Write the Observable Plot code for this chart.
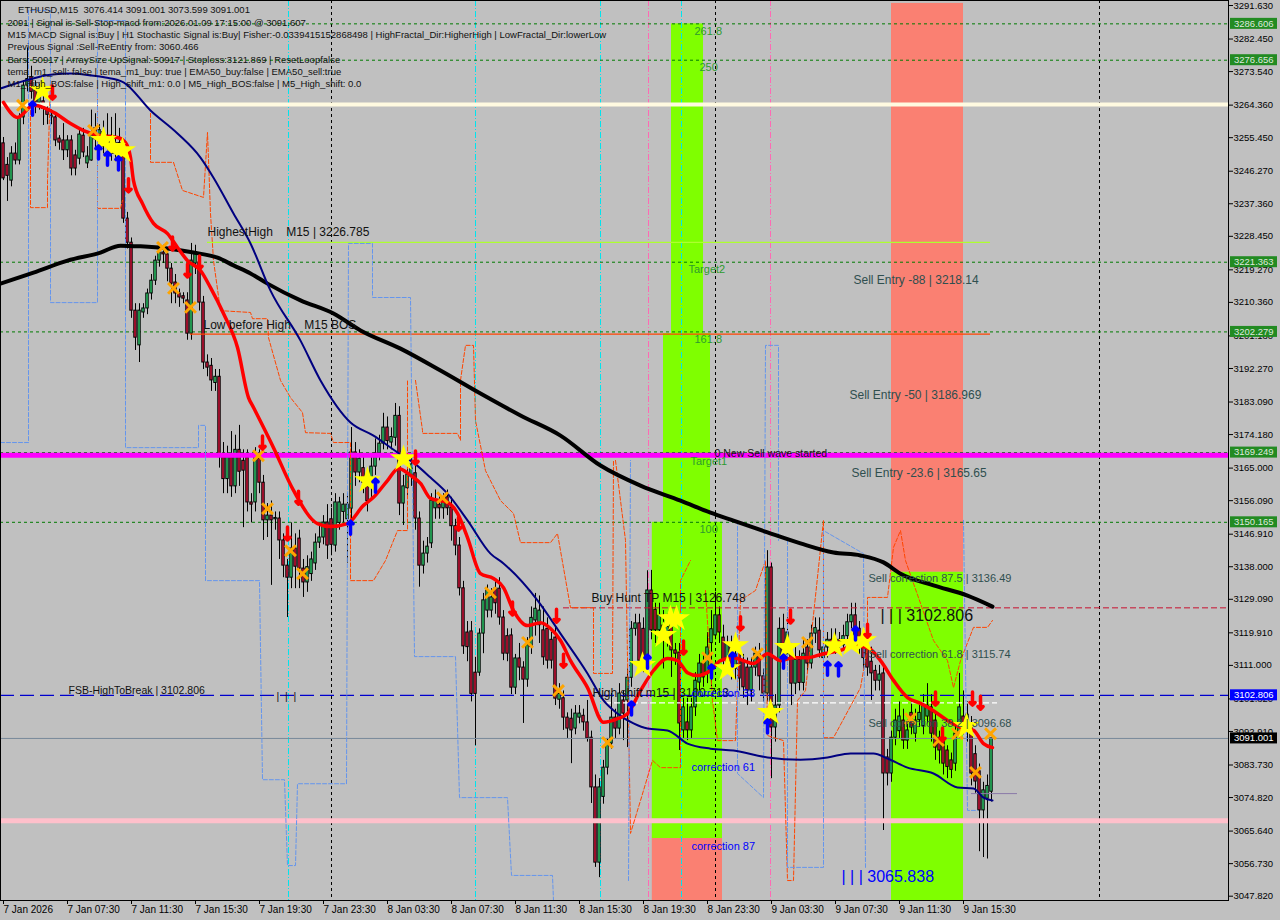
<!DOCTYPE html>
<html><head><meta charset="utf-8">
<script src="https://cdn.jsdelivr.net/npm/d3@7"></script>
<script src="https://cdn.jsdelivr.net/npm/@observablehq/plot@0.6"></script>
<style>
html,body{margin:0;padding:0;background:#c0c0c0;}
#chart{width:1280px;height:920px;}
svg text{white-space:pre;}
</style></head><body><div id="chart"></div>
<script>
// ---------- candles (bar index 0 = 7 Jan 03:30, M15) ----------
const open = [
3253.9,3248,3243.7,3251.1,3249.2,3261,3269.7,3272,3268.4,3265,
3265.4,3263.3,3261.5,3261,3255.2,3254.7,3252,3254.7,3250.6,3249.7,
3256,3248.4,3249.2,3258,3255,3257,3253,3256,3251,3254,
3251.4,3233.3,3226.7,3208.1,3198.6,3207.6,3208.7,3212.8,3216.3,3221.8,
3224,3223.5,3219.6,3215.8,3212.8,3211.7,3210.9,3201.8,3221,3221.3,
3210.3,3193.9,3193,3188.3,3190,3168,3162,3168,3160,3170,
3167,3167.9,3155.6,3155.6,3167.6,3161,3150.7,3152,3151,3151.2,
3145.2,3138.3,3135,3143,3145.7,3137.5,3133.7,3136,3138.9,3144.6,
3146,3150.1,3151,3143.8,3150,3153,3151,3153.9,3169.3,3163.8,
3165,3160,3160.2,3165.4,3169,3171.7,3176.1,3172,3173.3,3179.3,
3155.3,3159.5,3163,3163.6,3151.2,3138.3,3141.6,3144.4,3154,3155,
3154,3157,3154.2,3149.1,3143.8,3132.1,3120,3120.3,3109,3109,
3119.7,3126,3126,3132,3132,3124.1,3119,3119.2,3104.9,3112.9,
3110.4,3107.1,3116,3123.3,3122,3120.6,3121,3118,3118.6,3101.6,
3102,3096.7,3096.4,3093.7,3096.7,3097.2,3095.4,3091.2,3077.6,3057,
3075,3083,3089.6,3096.7,3093.7,3101.4,3101.4,3107.6,3121,3122.5,
3121,3112.3,3131.5,3126.2,3120.6,3121.9,3118.6,3122.7,3115.1,3114.5,
3093.2,3095.4,3093.2,3099.5,3106.3,3111.5,3108.7,3117.1,3119.2,3124.7,
3118.6,3111.8,3116,3110,3114.2,3112,3110.4,3104.1,3110.4,3114,
3108,3103.3,3137.8,3094,3100,3121,3114,3114,3106,3112.5,
3106.2,3115.9,3111.5,3119.7,3120.5,3113,3115.9,3118,3116,3118,
3116.5,3119,3122.8,3124.7,3121,3118,3115.9,3112,3109.5,3106.8,
3108.8,3085.8,3081.4,3091.2,3093,3095.9,3090.4,3098,3092.3,3096,
3094.4,3097,3099.5,3095.9,3091.2,3090.4,3087.7,3085,3084.1,3092.3,
3097,3094,3094,3086.7,3082,3071.3,3074.5,3076.414];
const high = [
3255.5,3250,3253,3254,3262,3271,3280,3275,3271,3270,
3268,3264,3263,3262,3256,3259.3,3256,3256,3252,3258,
3258,3253,3263,3262,3259,3260,3262,3261,3262,3258,
3253,3235,3228,3210,3210,3210,3214,3218,3223,3226,
3226,3225,3221,3218,3214,3213,3213,3226.5,3226,3224,
3212,3196,3195,3192,3192,3172,3171,3175,3174,3176.7,
3170,3170,3158,3170.6,3170,3163,3155.3,3156,3153,3153,
3147,3140,3150,3147,3148,3140,3141,3142,3147,3149,
3152,3155,3154,3158,3157,3158,3158,3176.1,3172,3170,
3168,3163,3168,3173,3174,3180,3179,3176,3182.7,3181.8,
3163,3166,3169,3168,3153,3145,3146,3158,3159,3158,
3158,3159,3157,3151,3146,3134,3123,3123,3113.2,3121,
3130.7,3133,3132,3134.2,3135,3126,3121,3121,3114,3117,
3112,3118.6,3127,3130.7,3130,3127,3124,3120,3121.4,3106,
3104,3098,3099,3100,3100,3099,3101.4,3093,3081,3080,
3085,3091,3103.3,3099,3106,3104,3110,3123,3125,3125,
3124,3136.9,3137,3128,3128,3126,3125,3126,3117,3117,
3102,3102,3102,3109,3114,3114,3120,3126,3131,3127,
3122,3119,3119,3118,3117,3114,3113,3113,3116,3117,
3110,3142.4,3139,3103,3124,3125,3124,3117,3116,3115,
3118,3118,3122,3124,3124,3118,3120,3121,3121,3120,
3122,3125,3128,3128,3123,3120,3118,3116,3111,3111,
3111,3088,3093,3099,3101,3099,3096,3101,3099,3100,
3103,3106,3103,3098,3093,3092,3089,3087,3094,3108.8,
3104,3101,3097,3089,3084,3079,3081,3091.001];
const low = [
3243.7,3238,3242,3248,3248,3259,3268,3266,3262,3263,
3258.8,3259,3259,3253,3252,3249.2,3250,3245,3245,3248,
3250,3247,3249,3252,3253,3251,3250,3249,3249,3249,
3232,3225,3206,3197.2,3193.9,3206,3207,3211,3215,3220,
3221,3216,3210,3210,3209,3210,3200,3200,3218,3208,
3192,3190,3186,3186,3165,3158,3158,3157,3158,3160,
3148.7,3153,3150,3153,3158,3145.2,3146,3132.9,3148,3140,
3135,3124.1,3132,3132,3132,3129.6,3131,3134,3137,3143,
3144,3140,3141,3142,3148,3150,3139,3151,3160,3161,
3158,3153,3157,3163,3167,3170,3170,3170,3171,3152,
3149.3,3157,3160,3148,3132.4,3136,3139,3143,3151,3151,
3151,3152,3145,3141,3130,3114,3112,3101,3089,3108,
3114.2,3124,3124,3125,3122,3112.3,3112,3103,3103,3106.8,
3095.1,3105,3114,3119,3117,3111,3110,3110,3100,3099,
3093.2,3091,3084.1,3092,3095,3093,3090,3073.2,3055.7,3052.9,
3073,3081,3088,3091,3092,3090.4,3088.5,3105,3119,3110,
3109,3110,3118,3117,3118,3110,3116,3107.7,3111,3087.7,
3091,3090.4,3091,3097,3104,3105,3106,3105,3118,3117,
3110,3109,3107,3107,3104,3102,3100,3101,3108,3104,
3101,3101,3080,3090,3098,3110,3111,3100,3103,3104,
3104,3109,3110,3117,3113,3111,3113,3114,3114,3114,
3115,3118,3121,3117,3114,3110,3108,3101.4,3104,3104,
3065.8,3078,3079,3089,3091,3088,3088,3092,3090,3094,
3092,3095,3090,3085,3084,3081,3080,3080,3082,3091,
3092,3090,3078,3076,3060,3058.4,3058,3073.599];
const close = [
3244.3,3245,3251.1,3249.2,3261,3269.7,3271.5,3268,3265,3268,
3263.3,3261.7,3261,3254.7,3254.1,3252,3254.7,3247,3247,3256.3,
3251.4,3250.3,3256.6,3255,3257.5,3253,3256,3251,3254,3251.4,
3233.3,3226.7,3208.1,3200.7,3208.1,3208.7,3212.8,3216.3,3221.8,3224,
3223.5,3219.6,3215.5,3212.8,3211.7,3211.4,3201.8,3221.8,3224,3210.3,
3193.9,3192.5,3189,3190,3168,3162,3168,3160,3170,3164,
3164.3,3155.6,3155,3167.9,3161,3150.7,3152,3150.7,3151,3145.2,
3138.3,3135,3143,3138,3137.5,3133.7,3137.9,3140,3144.6,3146,
3150.1,3143.8,3144,3155.6,3155.6,3155,3155,3169.3,3163.8,3167.6,
3161,3156,3165.4,3169,3171.7,3176.1,3172.4,3173.5,3179.3,3155.3,
3160,3163.2,3166,3151.2,3138.3,3141.6,3143.5,3156.1,3156,3154,
3156,3154,3149.1,3143.8,3132.1,3116.2,3116,3103.2,3103.2,3119.7,
3128.8,3131.5,3129.6,3128,3124.1,3114.2,3114.2,3104.9,3112.9,3110.4,
3107.1,3116.5,3124,3126.5,3126,3113.2,3112.3,3112.3,3101.9,3103.2,
3096.7,3093.7,3093.2,3097.8,3097.8,3095.4,3091,3077.6,3057,3077.6,
3083,3089.6,3096.7,3093.7,3103.3,3097.8,3107.6,3121,3122.5,3112.3,
3112.3,3131.5,3120.6,3120.6,3124.7,3118.6,3121.5,3115.1,3114.2,3095.1,
3099.5,3093.2,3099.5,3106.8,3111.5,3107.7,3115.9,3120.9,3124.7,3120,
3112.3,3116.9,3110,3114,3107.4,3105,3104.1,3110.4,3114.2,3108,
3103.3,3137.8,3094,3100,3121,3114,3120,3106,3112.5,3106.2,
3114.2,3111.5,3119.7,3121.2,3115.1,3115.9,3118,3116,3118,3116.5,
3119,3122.8,3124.7,3119.2,3116.4,3113,3110.4,3108.8,3106.8,3108.5,
3081.4,3081.4,3091.2,3095.9,3097,3090.4,3093.2,3094,3095.9,3098,
3100,3100,3092.3,3088.5,3087.7,3084.1,3083.2,3082.4,3092.3,3099.5,
3094,3097.5,3081.4,3079.2,3071.3,3076.8,3078,3091.001];

// ---------- indicator lines (bar index, price) ----------
const redI = [0,3.5,7.5,10,13,16.75,20,24.25,28.5,30.5,31.75,32.5,34.75,37.5,41,43.5,46,49.25,51.75,55,58.5,61.25,62.5,67.5,72.5,78.5,81.75,86,90,92.5,96,98.75,101.75,104.25,106.75,111,113.5,116,119.25,122.5,125,127.5,131,134.25,136.75,139.25,141.75,146,150,153.5,156,159.25,162.5,166,168.5,171,173.5,176.75,179.25,182.5,185,187.5,191,194.25,197.5,201,205,209.25,212.5,216,219.25,222.5,226,229.25,232.5,236,239.25,242.5,245,247.25];
const redP = [3265.1,3261.0,3264.3,3263.7,3262.1,3259.3,3257.4,3256.0,3255.5,3254.1,3250.0,3243.7,3237.4,3232.0,3229.2,3225.4,3221.8,3219.1,3214.4,3207.3,3198.0,3184.3,3181.6,3170.6,3158.9,3149.8,3149.0,3149.8,3154.8,3157.0,3161.6,3164.9,3163.0,3160.8,3156.7,3155.6,3152.6,3146.0,3136.1,3134.8,3132.3,3126.0,3121.9,3122.7,3121.1,3117.8,3112.3,3104.9,3095.4,3096.4,3097.8,3104.1,3109.6,3112.9,3112.3,3109.0,3108.2,3109.6,3112.3,3113.1,3112.3,3111.5,3114.2,3112.3,3113.1,3113.1,3114.2,3115.1,3116.4,3115.9,3112.3,3106.9,3102.2,3100.6,3098.6,3095.9,3094.0,3093.2,3089.6,3088.5];
const navyI = [-0.75,5.5,11.75,16.75,21.75,25.5,30,36.75,43.5,49.25,52.5,57.5,61.75,66.75,74.25,79.25,86.75,92.5,98.5,102.5,106.75,111,116,121.75,125,133.5,139.25,146,150,153.5,157.5,161,166,171,176.75,182.5,191,199.25,206,211.75,217.5,221,226,232.5,238.5,242.5,245,247.25];
const navyP = [3268.9,3271.1,3272.7,3273.0,3272.5,3271.9,3270.6,3262.9,3256.6,3250.0,3244.5,3234.7,3226.5,3213.6,3199.9,3189.0,3177.5,3173.9,3169.3,3166.5,3162.4,3158.0,3150.7,3141.6,3138.9,3128.8,3119.7,3108.8,3101.4,3097.8,3095.1,3093.7,3093.2,3089.6,3088.2,3087.7,3085.8,3085.2,3085.8,3086.9,3086.9,3085.5,3083.0,3081.4,3077.6,3077.3,3074.8,3074.0];
const blackI = [-0.75,7.5,16,24.25,29.25,34.25,41,47.5,53.5,57.5,61.75,66,74.25,82.5,89.25,99.25,109.25,119.25,129.25,139.25,149.25,159.25,169.25,176.75,182.5,191,199.25,207.5,214.25,220,224.25,232.5,241,247.25];
const blackP = [3215.5,3218.5,3221.8,3224.0,3225.9,3225.7,3225.1,3224.0,3222.6,3220.5,3218.3,3215.5,3210.9,3207.3,3202.7,3197.7,3191.7,3185.4,3179.4,3173.9,3165.7,3160.2,3156.1,3152.8,3150.6,3147.4,3144.4,3141.9,3141.1,3139.2,3136.1,3132.9,3130.1,3127.1];

// dashed step channels (segments of [bar, price])
const orangeSegs = [
 [[6.75,3262.9],[6.75,3236.3],[11,3236.3],[11,3243.7],[11.75,3271.1]],
 [[23.5,3269.2],[23.5,3236.1],[29.25,3236.1],[29.75,3238.3]],
 [[36.75,3262.1],[36.75,3248.7],[42.5,3248.7],[44.75,3241.0],[50,3239.1],[51,3256.9],[51.75,3234.7],[52.5,3221.8],[54.25,3208.1],[61.75,3207.6],[62.25,3205.9],[66,3205.9],[66.25,3200.7],[69.25,3189.0],[71.75,3184.3],[74.75,3180.2],[75.5,3174.7],[81.75,3174.5],[82.5,3172.0],[86.75,3172.0],[86.75,3134.2],[92.5,3134.2],[95.5,3139.7],[98.5,3147.9],[101,3147.9],[101,3189.0]],
 [[103,3189.0],[104.75,3175.3],[104.75,3174.5],[113.5,3174.5],[114.25,3172.6],[114.25,3189.0],[115.5,3198.6],[117.5,3198.6],[118,3178.0],[120.5,3164.3],[124.25,3156.1],[127.5,3152.6],[129.25,3144.6],[136.75,3144.6],[138.5,3147.1],[141.75,3126.8],[147.5,3126.8],[147.5,3108.8],[152.25,3108.8],[152.5,3167.1]],
 [[153,3167.1],[155.5,3145.2],[156.75,3065.0],[159.25,3074.0],[162.25,3085.0],[164.25,3083.0],[169.25,3083.0],[169.25,3134.2],[171.75,3139.7]],
 [[175.5,3131.5],[177.25,3101.4],[178.5,3090.4],[183,3090.4],[184.25,3128.8],[188,3131.5],[190.5,3139.7],[191,3091.8],[195,3090.4],[196,3052.1],[197.5,3052.1],[198.5,3101.4],[200.5,3104.1],[205,3150.7],[205,3091.2],[207.5,3091.2],[214.25,3104.9],[216,3115.9],[216,3129.6],[221,3129.6],[222.5,3143.3],[224.25,3147.9],[225.5,3139.7],[232.5,3117.8],[236,3112.3],[237.5,3104.9],[239.25,3112.3],[242.5,3121.4],[246,3121.4],[247.25,3123.3]]
];
const blueSegs = [
 [[-0.75,3172.0],[6.25,3172.0],[6.25,3290.3],[11.75,3290.3],[11.75,3210.3],[23.5,3210.3],[23.5,3287.5],[30.5,3287.5],[30.5,3170.6],[48.75,3170.6],[48.75,3176.7],[50.5,3176.7],[50.5,3134.2],[64,3134.2],[64.75,3079.7],[70.25,3079.7],[71,3056.2],[73,3056.2],[73.5,3078.6],[85.75,3078.6],[86.25,3226.5],[92.25,3226.5],[92.25,3211.7],[101.75,3211.7],[102.75,3113.4],[113,3113.4],[114,3074.8],[126,3074.8],[127,3053.5],[137.25,3053.5],[137.5,3046.6]],
 [[156.25,3052.1],[156.75,3167.1]],
 [[183.5,3150.7],[183.5,3081.4],[190,3074.8],[190.5,3198.6],[193.75,3198.6],[193.75,3145.2]],
 [[196,3145.2],[196,3055.7],[205,3055.7],[205,3147.9],[215,3141.6],[215.5,3055.7]],
 [[240,3150.7],[241,3071.3],[243.5,3071.3]]
];

// ---------- signal markers ----------
const crossI = [4.75,22.5,39.75,42.5,46.75,63.75,66,71.75,74.75,109.75,121.75,131,138.75,151,176,188.5,201,226.75,233.75,238.5,243,246.75];
const crossP = [3264.3,3257.4,3225.4,3214.2,3209.0,3168.4,3153.9,3142.4,3136.1,3156.9,3130.9,3117.3,3104.1,3089.9,3113.1,3114.2,3117.3,3096.4,3090.4,3092.3,3081.7,3092.3];
const starI = [9.75,25,27.25,29.75,91,100,159.75,165,166.75,168.25,181,183,191.75,196,207.75,212,215,240.75];
const starP = [3268.4,3254.7,3252.8,3251.9,3161.6,3167.6,3111.0,3119.2,3123.8,3123.8,3110.1,3116.4,3098.1,3115.9,3116.4,3117.0,3117.8,3094.3];
const downI = [12.25,31.25,42.25,46,49,64.75,73.75,71,103,113.75,127.25,138.25,140,170,184.25,196.75,216,233,234.75,242.25,244.25];
const downP = [3267.8,3242.4,3226.5,3219.1,3221.3,3172.0,3156.9,3147.1,3167.9,3149.8,3126.6,3124.6,3112.3,3115.9,3122.5,3124.4,3120.5,3101.9,3092.1,3101.9,3100.8];
const upI = [7.25,23.75,26,28.75,86.75,93,157,161,177,182.25,191,195,206,208.75,213];
const upP = [3263.4,3251.4,3249.7,3248.4,3148.7,3160.2,3099.2,3112.0,3109.3,3112.6,3094.3,3112.0,3110.1,3109.9,3119.7];

// ---------- zones and levels ----------
const bandStart = [167,165,162.2,162.2,222,222];
const bandEnd   = [175,176.75,179.75,179.75,240,240];
const bandLow   = [3201.8,3150.165,3063.6,3046.6,3136.49,3046.6];
const bandHigh  = [3286.606,3201.8,3150.165,3063.6,3292.2,3136.49];
const bandKind  = ["fib","fib","fib","stop","stop","fib"];
const fibLevels = [3286.606,3276.656,3221.363,3202.279,3169.249,3150.165];
const creamLevel = 3264.5, magentaLevel = 3168.5, pinkLevel = 3068.5, bidPrice = 3091.001;
const fsbHigh = 3102.806;
const highShift = 3100.713, highShiftFrom = 150.5, highShiftTo = 248.5;
const buyHuntTP = 3126.748, buyHuntFrom = 140, buyHuntTo = 306.25;
const highestHigh = 3226.785, hhFrom = 51, hhTo = 246.75;
const lowBeforeHigh = 3201.7, lbhFrom = 46.75, lbhTo = 246.75;
const shortLevel = 3075.9, shortFrom = 242, shortTo = 253.5;
const daySeps = [82,178,274];
const cyanMarks = [71.25,118,149.25,169.5];
const pinkMarks = [161.25,191.75];

// ---------- texts ----------
const blackLabels = ["HighestHigh    M15 | 3226.785","Low before High    M15 BOS","Buy Hunt TP M15 | 3126.748","High shift m15 | 3100.713"];
const blackLabelI = [51,50,147,147.25];
const blackLabelP = [3229.5,3204.0,3129.3,3103.3];
const sellLabels = ["Sell Entry -88 | 3218.14","Sell Entry -50 | 3186.969","Sell Entry -23.6 | 3165.65"];
const sellLabelI = [212.5,211.5,212];
const sellLabelP = [3216.35,3184.9,3163.5];
const corrLabels = ["Sell correction 87.5 | 3136.49","Sell correction 61.8 | 3115.74","Sell correction 38.2 | 3096.68"];
const corrLabelI = [216.25,216.25,216.25];
const corrLabelP = [3134.8,3114.0,3095.1];
const blueLabels = ["correction 38","correction 61","correction 87"];
const blueLabelI = [172,172,172];
const blueLabelP = [3103.3,3083.0,3061.4];
const fibLabels = ["261.8","250","Target2","161.8","Target1","100"];
const fibLabelI = [172.75,174,171.25,172.75,171.75,174];
const fibLabelP = [3284.5,3274.7,3219.4,3200.2,3166.8,3148.2];
const smallLabels = ["0 New Sell wave started","FSB-HighToBreak | 3102.806","|  |  |"];
const smallLabelI = [177.75,16.25,68.25];
const smallLabelP = [3169.0,3104.1,3102.5];
const bigLabels = ["| | | 3102.806","| | | 3065.838"];
const bigLabelI = [219.25,209.5];
const bigLabelP = [3124.6,3053.2];
const infoLines = [
"    ETHUSD,M15  3076.414 3091.001 3073.599 3091.001",
"2091 | Signal is Sell-Stop-macd from:2026.01.09 17:15:00 @ 3091.607",
"M15 MACD Signal is:Buy | H1 Stochastic Signal is:Buy| Fisher:-0.0339415152868498 | HighFractal_Dir:HigherHigh | LowFractal_Dir:lowerLow",
"Previous Signal :Sell-ReEntry from: 3060.466",
"Bars: 50917 | ArraySize UpSignal: 50917 | Stoploss:3121.869 | ResetLoopfalse",
"tema_m1_sell: false | tema_m1_buy: true | EMA50_buy:false | EMA50_sell:true",
"M1_High_BOS:false | High_shift_m1: 0.0 | M5_High_BOS:false | M5_High_shift: 0.0"];

// ---------- axes ----------
const yTicks = [3291.63,3282.45,3273.54,3264.36,3255.45,3246.27,3237.36,3228.45,3219.27,3210.36,3201.18,3192.27,3183.09,3174.18,3165.0,3156.09,3146.91,3138.0,3129.09,3119.91,3111.0,3101.82,3092.91,3083.73,3074.82,3065.64,3056.73,3047.82];
const timeTicks = [0,16,32,48,64,80,96,112,128,144,160,176,192,208,224,240];
const timeLabels = ["7 Jan 2026","7 Jan 07:30","7 Jan 11:30","7 Jan 15:30","7 Jan 19:30","7 Jan 23:30","8 Jan 03:30","8 Jan 07:30","8 Jan 11:30","8 Jan 15:30","8 Jan 19:30","8 Jan 23:30","9 Jan 03:30","9 Jan 07:30","9 Jan 11:30","9 Jan 15:30"];
const tagPrices = [3286.606,3276.656,3221.363,3202.279,3169.249,3150.165,3102.806,3091.001];
const tagKinds = ["g","g","g","g","g","g","b","k"];

// ---------- build ----------
const bars = open.map((o,i)=>({i,o,h:Math.max(high[i],o,close[i]),l:Math.min(low[i],o,close[i]),c:close[i]}));
const pts = (I,P)=>I.map((x,k)=>({x,y:P[k]}));
const flat = segs => segs.flatMap((s,k)=>s.map(([x,y])=>({x,y,seg:k})));
const bands = bandStart.map((s,k)=>({x1:s,x2:bandEnd[k],y1:bandLow[k],y2:bandHigh[k],kind:bandKind[k]}));
const BULL="#2fd36f", BEAR="#dc143c";
const FONT="'Liberation Sans', Arial, sans-serif";

const plot = Plot.plot({
  width:1280, height:920,
  marginLeft:0, marginRight:52, marginTop:0, marginBottom:20,
  x:{domain:[-0.75,306.25]},
  y:{domain:[3046.64,3293.0]},
  style:{background:"#c0c0c0", fontFamily:FONT, fontSize:"10px", color:"black"},
  marks:[
    Plot.rect(bands,{x1:"x1",x2:"x2",y1:"y1",y2:"y2",fill:d=>d.kind==="fib"?"#7fff00":"#fa8072"}),
    Plot.ruleX(daySeps,{stroke:"black",strokeDasharray:"3,3",strokeWidth:1}),
    Plot.ruleX(cyanMarks,{stroke:"#00e5ee",strokeDasharray:"6,2,1,2",strokeWidth:1}),
    Plot.ruleX(pinkMarks,{stroke:"#ff69b4",strokeDasharray:"6,2,1,2",strokeWidth:1}),
    Plot.ruleY(fibLevels,{stroke:"#007a00",strokeDasharray:"3,3",strokeWidth:1}),
    // candles
    Plot.ruleX(bars,{x:"i",y1:"l",y2:"h",stroke:"black",strokeWidth:1}),
    Plot.rect(bars,{x1:d=>d.i-0.3,x2:d=>d.i+0.3,
      y1:d=>Math.min(d.o,d.c),
      y2:d=>Math.max(d.o,d.c)+(Math.abs(d.o-d.c)<0.35?0.35:0),
      fill:d=>d.c>=d.o?BULL:BEAR,stroke:"black",strokeWidth:1}),
    // horizontal levels
    Plot.ruleY([creamLevel],{stroke:"#fffae0",strokeWidth:4}),
    Plot.ruleY([magentaLevel],{stroke:"#ff00ff",strokeWidth:5}),
    Plot.ruleY([pinkLevel],{stroke:"#ffc0cb",strokeWidth:5}),
    Plot.ruleY([bidPrice],{stroke:"#778899",strokeWidth:1}),
    Plot.ruleY([fsbHigh],{stroke:"#0000cd",strokeWidth:1.3,strokeDasharray:"14,6"}),
    Plot.ruleY([highShift],{x1:highShiftFrom,x2:highShiftTo,stroke:"white",strokeWidth:1.3,strokeDasharray:"6,3"}),
    Plot.ruleY([buyHuntTP],{x1:buyHuntFrom,x2:buyHuntTo,stroke:"#c8102e",strokeWidth:1,strokeDasharray:"6,3"}),
    Plot.ruleY([highestHigh],{x1:hhFrom,x2:hhTo,stroke:"#adff2f",strokeWidth:1.2}),
    Plot.ruleY([lowBeforeHigh],{x1:lbhFrom,x2:lbhTo,stroke:"#ff4500",strokeWidth:1.2}),
    Plot.ruleY([shortLevel],{x1:shortFrom,x2:shortTo,stroke:"#8a7aa8",strokeWidth:1}),
    // step channels
    Plot.line(flat(orangeSegs),{x:"x",y:"y",z:"seg",stroke:"#ff4500",strokeWidth:1,strokeDasharray:"4,2"}),
    Plot.line(flat(blueSegs),{x:"x",y:"y",z:"seg",stroke:"#6495ed",strokeWidth:1,strokeDasharray:"4,2"}),
    // moving averages
    Plot.line(pts(blackI,blackP),{x:"x",y:"y",stroke:"black",strokeWidth:4,curve:"monotone-x"}),
    Plot.line(pts(navyI,navyP),{x:"x",y:"y",stroke:"#000080",strokeWidth:2,curve:"monotone-x"}),
    Plot.line(pts(redI,redP),{x:"x",y:"y",stroke:"#ff0000",strokeWidth:3.5,curve:"monotone-x"}),
    // markers
    Plot.dot(pts(crossI,crossP),{x:"x",y:"y",symbol:"times",r:5,stroke:"#ffa500",strokeWidth:3}),
    Plot.dot(pts(starI,starP),{x:"x",y:"y",symbol:"star",r:8.5,fill:"#ffff00",stroke:"none"}),
    Plot.vector(pts(downI,downP),{x:"x",y:"y",rotate:180,length:13,anchor:"middle",stroke:"#ff0000",strokeWidth:3.5}),
    Plot.vector(pts(upI,upP),{x:"x",y:"y",rotate:0,length:13,anchor:"middle",stroke:"#0000ff",strokeWidth:3.5}),
    // texts
    Plot.text(blackLabels,{x:(d,k)=>blackLabelI[k],y:(d,k)=>blackLabelP[k],text:d=>d,textAnchor:"start",fontSize:12,fill:"#111"}),
    Plot.text(sellLabels,{x:(d,k)=>sellLabelI[k],y:(d,k)=>sellLabelP[k],text:d=>d,textAnchor:"start",fontSize:12,fill:"#2f4f4f"}),
    Plot.text(corrLabels,{x:(d,k)=>corrLabelI[k],y:(d,k)=>corrLabelP[k],text:d=>d,textAnchor:"start",fontSize:11,fill:"#2f4f4f"}),
    Plot.text(blueLabels,{x:(d,k)=>blueLabelI[k],y:(d,k)=>blueLabelP[k],text:d=>d,textAnchor:"start",fontSize:11,fill:"#0000ff"}),
    Plot.text(fibLabels,{x:(d,k)=>fibLabelI[k],y:(d,k)=>fibLabelP[k],text:d=>d,textAnchor:"start",fontSize:11,fill:"#2e9b2e"}),
    Plot.text(smallLabels,{x:(d,k)=>smallLabelI[k],y:(d,k)=>smallLabelP[k],text:d=>d,textAnchor:"start",fontSize:10.5,fill:"#111"}),
    Plot.text(bigLabels,{x:(d,k)=>bigLabelI[k],y:(d,k)=>bigLabelP[k],text:d=>d,textAnchor:"start",fontSize:16,fill:(d,k)=>k===0?"#111":"#0000ff"}),
    Plot.text([infoLines.join("\n")],{frameAnchor:"top-left",text:d=>d,textAnchor:"start",lineAnchor:"top",dx:7,dy:4,lineHeight:1.3,fontSize:9.5,fill:"#111"}),
    // axes
    Plot.axisY({ticks:yTicks,anchor:"right",tickSize:4,tickPadding:1,tickFormat:d=>d.toFixed(3),fontSize:9.5,textAnchor:"start"}),
    Plot.axisX({ticks:timeTicks,anchor:"bottom",tickSize:4,tickPadding:1,tickFormat:d=>timeLabels[timeTicks.indexOf(d)],textAnchor:"start",fontSize:10}),
    Plot.frame({stroke:"black"})
  ]
});
document.getElementById("chart").appendChild(plot);

// highlighted price tags on the right axis
const ys = plot.scale("y");
const svg = d3.select(plot);
const xr = plot.scale("x").range[1];
const tagG = svg.append("g").attr("text-anchor","start");
tagPrices.forEach((p,k)=>{
  const yy = ys.apply(p);
  const bg = tagKinds[k]==="g"?"#228b22":tagKinds[k]==="b"?"#0000ff":"#000000";
  const fg = tagKinds[k]==="g"?"#dfe8df":"#ffffff";
  tagG.append("rect").attr("x",xr+2).attr("y",yy-5.5).attr("width",47).attr("height",11).attr("fill",bg);
  tagG.append("text").attr("x",xr+6).attr("y",yy).attr("dy","0.35em").attr("fill",fg)
     .attr("text-anchor","start").attr("font-size",9.5).attr("font-family",FONT).text(p.toFixed(3));
});
</script></body></html>
